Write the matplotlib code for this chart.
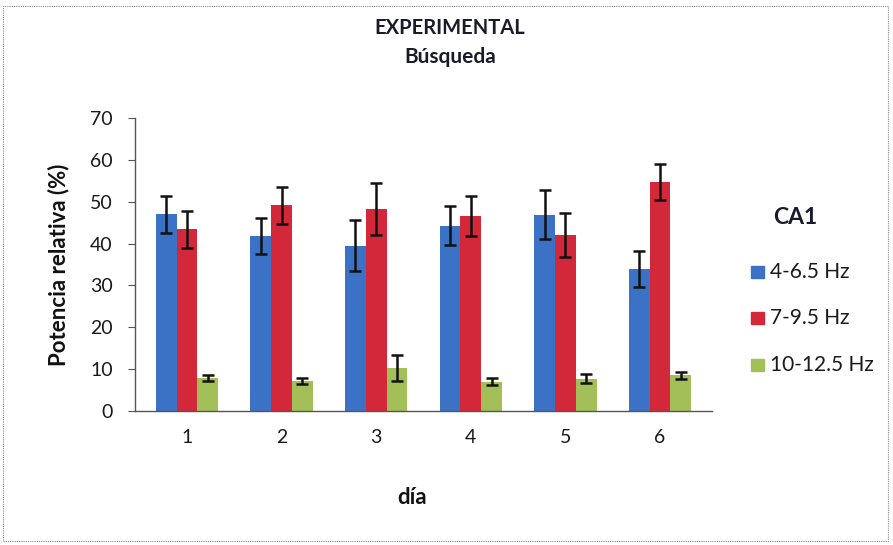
import matplotlib
matplotlib.use("Agg")
import matplotlib.pyplot as plt
import numpy as np
from matplotlib.patches import Rectangle

days = ["1", "2", "3", "4", "5", "6"]
series_names = ["4-6.5 Hz", "7-9.5 Hz", "10-12.5 Hz"]
theta_low = [47.0, 41.8, 39.5, 44.3, 46.9, 34.0]
theta_low_err = [4.4, 4.2, 6.1, 4.7, 5.8, 4.3]
theta_high = [43.4, 49.1, 48.3, 46.5, 42.0, 54.6]
theta_high_err = [4.4, 4.4, 6.2, 4.8, 5.3, 4.3]
alpha = [7.8, 7.2, 10.2, 7.0, 7.7, 8.5]
alpha_err = [0.75, 0.75, 3.1, 0.8, 1.1, 0.9]
colors = ["#3B72C6", "#D3283A", "#A2C057"]

W, H = 893, 545
fig = plt.figure(figsize=(W / 100, H / 100), dpi=100)
plt.rcParams['font.family'] = ['Lato', 'DejaVu Sans']

left, right, top, bottom = 135, 712, 118, 411
ax = fig.add_axes([left / W, 1 - bottom / H, (right - left) / W, (bottom - top) / H])

x = np.arange(len(days))
bw = 0.22
vals = [theta_low, theta_high, alpha]
errs = [theta_low_err, theta_high_err, alpha_err]
for i, (v, e, c, n) in enumerate(zip(vals, errs, colors, series_names)):
    ax.bar(x + (i - 1) * bw, v, width=bw, color=c, label=n,
           yerr=e, error_kw=dict(ecolor="#111111", elinewidth=1.8, capsize=4.5, capthick=1.8))

ax.set_xlim(-0.55, 5.55)
ax.set_ylim(0, 70)
ax.set_yticks(range(0, 71, 10))
ax.set_xticks(x)
ax.set_xticklabels(days)
ax.tick_params(axis='x', length=0, pad=13, labelsize=14, colors="#1a1a1a")
ax.tick_params(axis='y', length=5, direction='out', pad=11, labelsize=14, colors="#1a1a1a", color="#555555")
for s in ["top", "right"]:
    ax.spines[s].set_visible(False)
for s in ["left", "bottom"]:
    ax.spines[s].set_color("#555555")
    ax.spines[s].set_linewidth(1.0)

fig.text(450 / W, 1 - 28 / H, "EXPERIMENTAL", ha="center", va="center",
         fontsize=14.5, fontweight="bold", color="#1a1a2a")
fig.text(450 / W, 1 - 57 / H, "Búsqueda", ha="center", va="center",
         fontsize=15, fontweight="bold", color="#1a1a2a")
fig.text(59 / W, 1 - 265 / H, "Potencia relativa (%)", ha="center", va="center",
         rotation=90, fontsize=16, fontweight="bold", color="#111111")
fig.text(412 / W, 1 - 497 / H, "día", ha="center", va="center",
         fontsize=16, fontweight="bold", color="#111111")

# legend
fig.text(795 / W, 1 - 218 / H, "CA1", ha="center", va="center",
         fontsize=16.5, fontweight="bold", color="#1a1a2a")
for i, (n, c) in enumerate(zip(series_names, colors)):
    yc = [272, 318, 365][i]
    fig.patches.append(Rectangle((751 / W, 1 - (yc + 6) / H), 13 / W, 12 / H,
                                 transform=fig.transFigure, color=c))
    fig.text(770 / W, 1 - yc / H, n, ha="left", va="center", fontsize=15, color="#1a1a1a")

# chart border
fig.patches.append(Rectangle((3 / W, 4 / H), (W - 8) / W, (H - 10) / H, transform=fig.transFigure,
                             fill=False, edgecolor="#888888", linestyle=(0, (1, 1)), linewidth=0.8))

fig.savefig("out.png", dpi=100)
